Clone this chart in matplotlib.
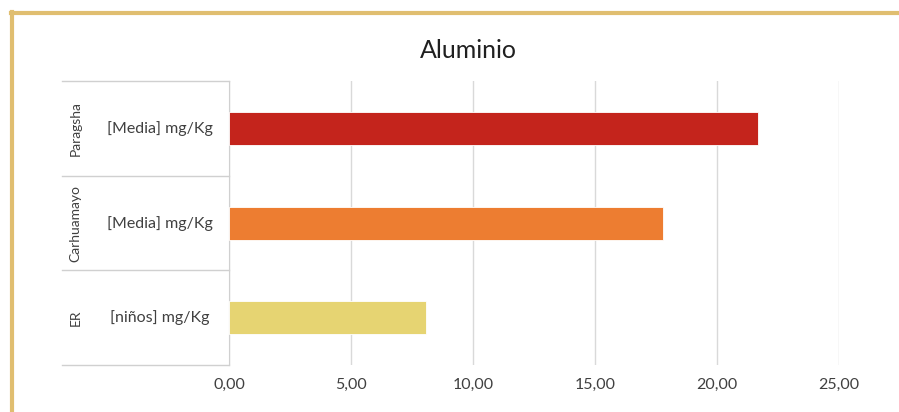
import matplotlib.pyplot as plt
from matplotlib.lines import Line2D
import matplotlib.transforms as mtransforms

plt.rcParams['font.family'] = ['Lato', 'DejaVu Sans']

# datos
sitios = ['ER', 'Carhuamayo', 'Paragsha']
medidas = ['[niños] mg/Kg', '[Media] mg/Kg', '[Media] mg/Kg']
valores = [8.07, 17.8, 21.7]
colores = ['#E6D472', '#ED7D31', '#C4241C']
ticks = [0, 5, 10, 15, 20, 25]
tick_labels = ['0,00', '5,00', '10,00', '15,00', '20,00', '25,00']

fig = plt.figure(figsize=(8.99, 4.12), dpi=100)
ax = fig.add_axes([0.2547, 0.114, 0.6785, 0.689])

pos = range(len(sitios))
ax.barh(pos, valores, height=0.35, color=colores, edgecolor='#FFFFFF', linewidth=0.6, zorder=3)

ax.set_xlim(0, 25)
ax.set_ylim(-0.5, 2.5)
ax.set_xticks(ticks)
ax.set_xticklabels(tick_labels, fontsize=11.5, color='#404040')
ax.set_yticks([])
ax.tick_params(axis='x', length=0, pad=9)
ax.grid(axis='x', color='#D9D9D9', linewidth=1, zorder=0)
for s in ['top', 'right', 'bottom']:
    ax.spines[s].set_visible(False)
ax.spines['left'].set_color('#D0D0D0')

# tabla de etiquetas a la izquierda
trans = mtransforms.blended_transform_factory(ax.transAxes, ax.transData)
x_izq = -0.274
for y in [-0.5, 0.5, 1.5, 2.5]:
    ax.add_line(Line2D([x_izq, 0], [y, y], transform=trans, color='#D0D0D0',
                       linewidth=1, clip_on=False))
for i, (sitio, medida) in enumerate(zip(sitios, medidas)):
    ax.text(-0.113, i, medida, transform=trans, ha='center', va='center',
            fontsize=11.5, color='#404040')
    ax.text(-0.252, i, sitio, transform=trans, ha='center', va='center',
            rotation=90, fontsize=10, color='#404040')

fig.text(0.521, 0.878, 'Aluminio', ha='center', va='center', fontsize=18, color='#202020')

# marco dorado
fig.add_artist(Line2D([0.0139, 0.0139], [0, 0.97], color='#E0BE70', linewidth=3))
fig.add_artist(Line2D([0.012, 1], [0.968, 0.968], color='#E0BE70', linewidth=3))

fig.savefig('out.png', dpi=100)
